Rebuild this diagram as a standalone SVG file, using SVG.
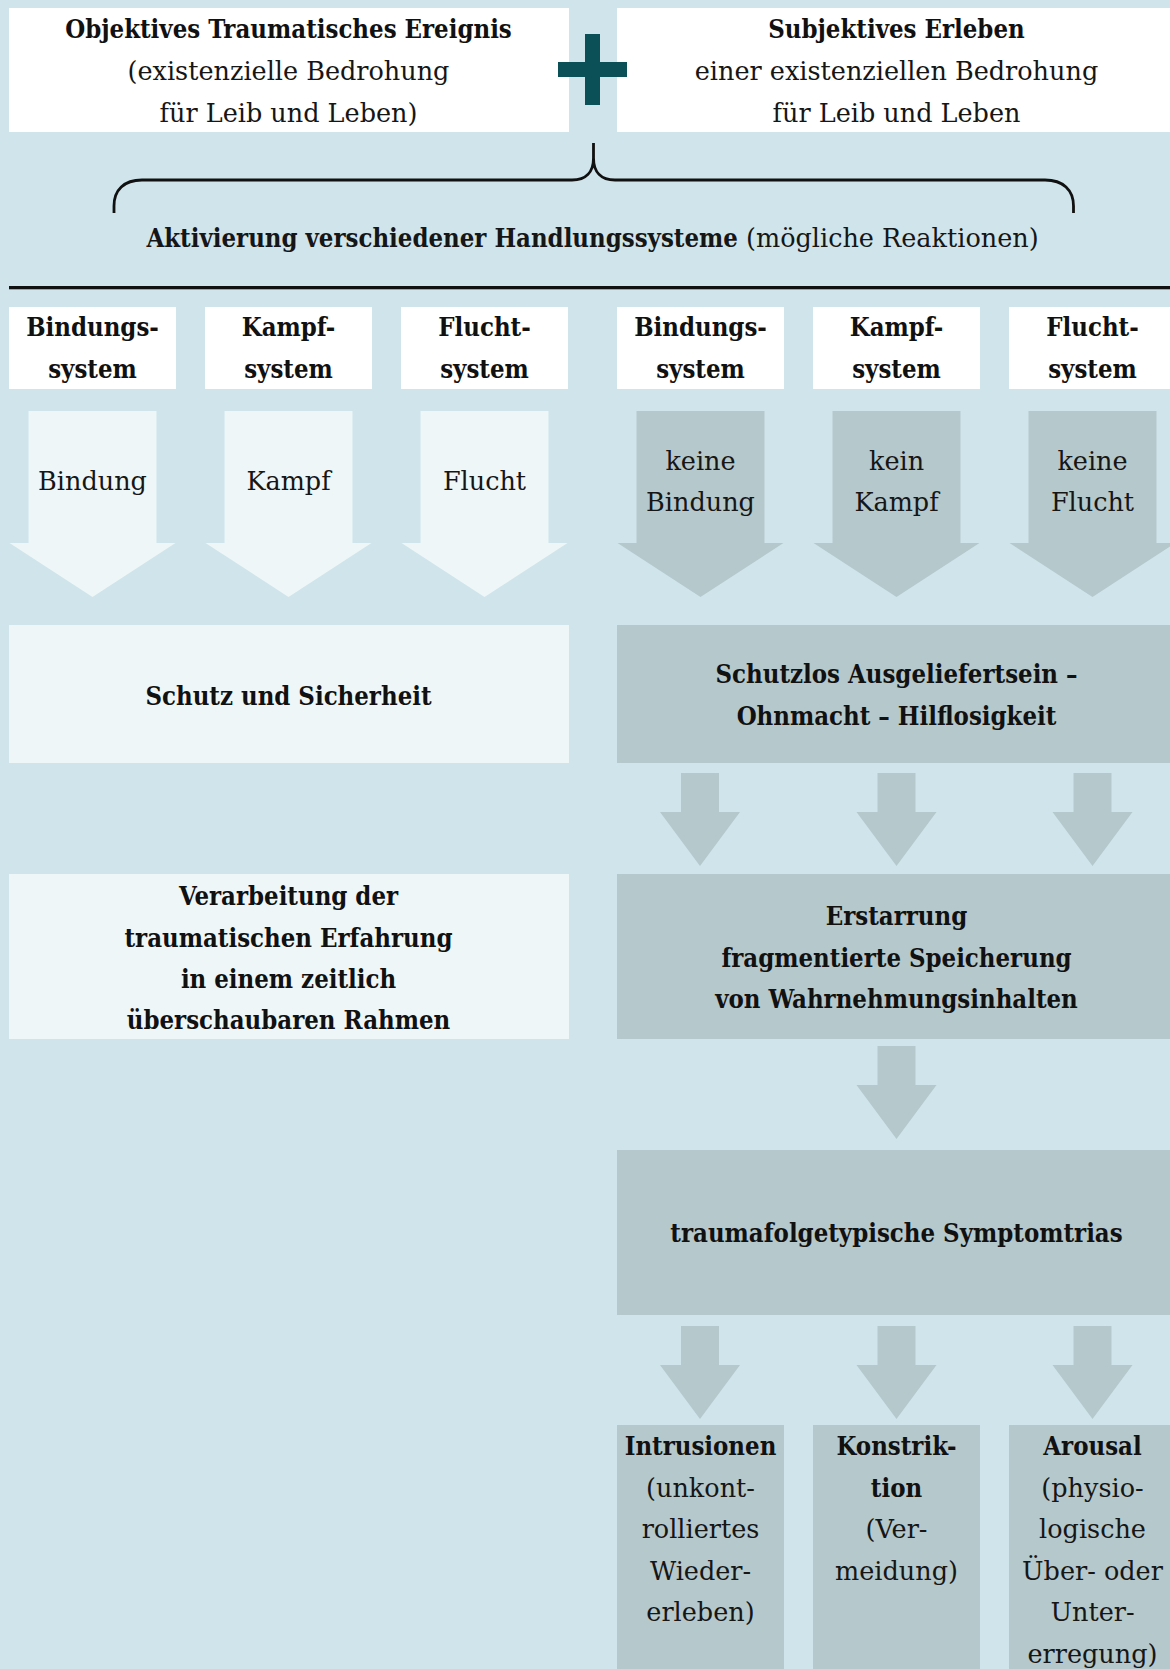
<svg xmlns="http://www.w3.org/2000/svg" xmlns:xlink="http://www.w3.org/1999/xlink" width="1170" height="1669" viewBox="0 0 1170 1669">
<style>
.bg{fill:#cfe5eb}
.white{fill:#ffffff}
.light{fill:#eef6f8}
.gray{fill:#b5c8cc}
.plus{fill:#0b5056}
.t{font-family:"DejaVu Serif",serif;font-size:25.5px;fill:#161616;text-anchor:middle}
.b{font-family:"DejaVu Serif Condensed","DejaVu Serif",serif;font-stretch:condensed;font-weight:bold;font-size:25.5px;fill:#111111;text-anchor:middle}
.bw{font-family:"DejaVu Serif Condensed","DejaVu Serif",serif;font-stretch:condensed;font-weight:bold}
.brace{fill:none;stroke:#111111;stroke-width:2.8}
</style>
<defs>
<path id="bigArrow" d="M-64,0 H64 V132 H83 L0,186 L-83,132 H-64 Z"/>
<path id="smallArrow" d="M-19,0 H19 V39 H40 L0,93 L-40,39 H-19 Z"/>
</defs>
<rect class="bg" x="0" y="0" width="1170" height="1669"/>

<g id="n-objektiv">
<rect class="white" x="9" y="8" width="560" height="124"/>
<text class="b" x="288.5" y="37.5">Objektives Traumatisches Ereignis</text>
<text class="t" x="288.5" y="80">(existenzielle Bedrohung</text>
<text class="t" x="288.5" y="121.7">für Leib und Leben)</text>
</g>

<g id="n-subjektiv">
<rect class="white" x="617" y="8" width="559" height="124"/>
<text class="b" x="896.5" y="37.5">Subjektives Erleben</text>
<text class="t" x="896.5" y="80">einer existenziellen Bedrohung</text>
<text class="t" x="896.5" y="121.7">für Leib und Leben</text>
</g>

<g id="n-aktivierung">
<text class="t" x="592.5" y="246.5"><tspan class="bw">Aktivierung verschiedener Handlungssysteme</tspan> (mögliche Reaktionen)</text>
</g>

<g id="n-sys-bindung-1">
<rect class="white" x="9" y="307" width="167" height="82"/>
<text class="b" x="92.5" y="335.5">Bindungs-</text>
<text class="b" x="92.5" y="378">system</text>
</g>
<g id="n-sys-kampf-1">
<rect class="white" x="205" y="307" width="167" height="82"/>
<text class="b" x="288.5" y="335.5">Kampf-</text>
<text class="b" x="288.5" y="378">system</text>
</g>
<g id="n-sys-flucht-1">
<rect class="white" x="401" y="307" width="167" height="82"/>
<text class="b" x="484.5" y="335.5">Flucht-</text>
<text class="b" x="484.5" y="378">system</text>
</g>
<g id="n-sys-bindung-2">
<rect class="white" x="617" y="307" width="167" height="82"/>
<text class="b" x="700.5" y="335.5">Bindungs-</text>
<text class="b" x="700.5" y="378">system</text>
</g>
<g id="n-sys-kampf-2">
<rect class="white" x="813" y="307" width="167" height="82"/>
<text class="b" x="896.5" y="335.5">Kampf-</text>
<text class="b" x="896.5" y="378">system</text>
</g>
<g id="n-sys-flucht-2">
<rect class="white" x="1009" y="307" width="167" height="82"/>
<text class="b" x="1092.5" y="335.5">Flucht-</text>
<text class="b" x="1092.5" y="378">system</text>
</g>

<g id="n-bindung">
<use xlink:href="#bigArrow" href="#bigArrow" class="light" x="92.5" y="411"/>
<text class="t" x="92.5" y="490">Bindung</text>
</g>
<g id="n-kampf">
<use xlink:href="#bigArrow" href="#bigArrow" class="light" x="288.5" y="411"/>
<text class="t" x="288.5" y="490">Kampf</text>
</g>
<g id="n-flucht">
<use xlink:href="#bigArrow" href="#bigArrow" class="light" x="484.5" y="411"/>
<text class="t" x="484.5" y="490">Flucht</text>
</g>
<g id="n-keine-bindung">
<use xlink:href="#bigArrow" href="#bigArrow" class="gray" x="700.5" y="411"/>
<text class="t" x="700.5" y="470">keine</text>
<text class="t" x="700.5" y="511">Bindung</text>
</g>
<g id="n-kein-kampf">
<use xlink:href="#bigArrow" href="#bigArrow" class="gray" x="896.5" y="411"/>
<text class="t" x="896.5" y="470">kein</text>
<text class="t" x="896.5" y="511">Kampf</text>
</g>
<g id="n-keine-flucht">
<use xlink:href="#bigArrow" href="#bigArrow" class="gray" x="1092.5" y="411"/>
<text class="t" x="1092.5" y="470">keine</text>
<text class="t" x="1092.5" y="511">Flucht</text>
</g>

<g id="n-schutz">
<rect class="light" x="9" y="625" width="560" height="138"/>
<text class="b" x="288.5" y="705">Schutz und Sicherheit</text>
</g>
<g id="n-schutzlos">
<rect class="gray" x="617" y="625" width="559" height="138"/>
<text class="b" x="896.5" y="683">Schutzlos Ausgeliefertsein –</text>
<text class="b" x="896.5" y="725">Ohnmacht – Hilflosigkeit</text>
</g>

<g id="n-verarbeitung">
<rect class="light" x="9" y="874" width="560" height="165"/>
<text class="b" x="288.5" y="905">Verarbeitung der</text>
<text class="b" x="288.5" y="946.5">traumatischen Erfahrung</text>
<text class="b" x="288.5" y="987.5">in einem zeitlich</text>
<text class="b" x="288.5" y="1028.5">überschaubaren Rahmen</text>
</g>
<g id="n-erstarrung">
<rect class="gray" x="617" y="874" width="559" height="165"/>
<text class="b" x="896.5" y="925">Erstarrung</text>
<text class="b" x="896.5" y="966.5">fragmentierte Speicherung</text>
<text class="b" x="896.5" y="1008">von Wahrnehmungsinhalten</text>
</g>

<g id="n-symptomtrias">
<rect class="gray" x="617" y="1150" width="559" height="165"/>
<text class="b" x="896.5" y="1241.5">traumafolgetypische Symptomtrias</text>
</g>

<g id="n-intrusionen">
<rect class="gray" x="617" y="1425" width="167" height="250"/>
<text class="b" x="700.5" y="1455">Intrusionen</text>
<text class="t" x="700.5" y="1496.5">(unkont-</text>
<text class="t" x="700.5" y="1538">rolliertes</text>
<text class="t" x="700.5" y="1579.5">Wieder-</text>
<text class="t" x="700.5" y="1621">erleben)</text>
</g>
<g id="n-konstriktion">
<rect class="gray" x="813" y="1425" width="167" height="250"/>
<text class="b" x="896.5" y="1455">Konstrik-</text>
<text class="b" x="896.5" y="1496.5">tion</text>
<text class="t" x="896.5" y="1538">(Ver-</text>
<text class="t" x="896.5" y="1579.5">meidung)</text>
</g>
<g id="n-arousal">
<rect class="gray" x="1009" y="1425" width="167" height="250"/>
<text class="b" x="1092.5" y="1455">Arousal</text>
<text class="t" x="1092.5" y="1496.5">(physio-</text>
<text class="t" x="1092.5" y="1538">logische</text>
<text class="t" x="1092.5" y="1579.5">Über- oder</text>
<text class="t" x="1092.5" y="1621">Unter-</text>
<text class="t" x="1092.5" y="1662.5">erregung)</text>
</g>

<g id="connectors">
<rect class="plus" x="558" y="62" width="69" height="15"/>
<rect class="plus" x="585" y="34" width="15" height="71"/>
<path class="brace" d="M114,213 V206 C114,190 124,180 142,180 H572 C586,180 593.5,172 593.5,158 V143 M593.5,158 C593.5,172 601,180 615,180 H1045 C1063,180 1073.5,190 1073.5,206 V213"/>
<rect x="9" y="286" width="1161" height="3.3" fill="#111111"/>
<use xlink:href="#smallArrow" href="#smallArrow" class="gray" x="700" y="773"/>
<use xlink:href="#smallArrow" href="#smallArrow" class="gray" x="896.5" y="773"/>
<use xlink:href="#smallArrow" href="#smallArrow" class="gray" x="1092.5" y="773"/>
<use xlink:href="#smallArrow" href="#smallArrow" class="gray" x="896.5" y="1046"/>
<use xlink:href="#smallArrow" href="#smallArrow" class="gray" x="700" y="1326"/>
<use xlink:href="#smallArrow" href="#smallArrow" class="gray" x="896.5" y="1326"/>
<use xlink:href="#smallArrow" href="#smallArrow" class="gray" x="1092.5" y="1326"/>
</g>
</svg>
